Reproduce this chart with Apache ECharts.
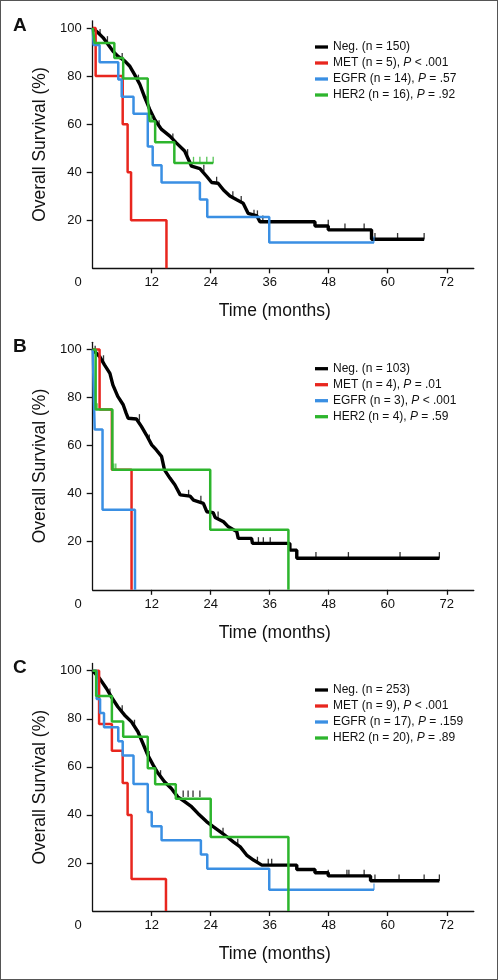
<!DOCTYPE html>
<html><head><meta charset="utf-8">
<script src="https://cdn.jsdelivr.net/npm/echarts@6/dist/echarts.min.js"></script>
<style>
html,body{margin:0;padding:0;background:#fff}
#c{position:absolute;left:0;top:0;width:498px;height:980px}
#frame{position:absolute;left:0;top:0;width:498px;height:980px;box-sizing:border-box;border:1px solid #555;pointer-events:none}
</style></head>
<body><div id="c"></div><div id="frame"></div>
<script>
// ---------- data ----------
const xTicks = [0, 12, 24, 36, 48, 60, 72];
const yTicks = [20, 40, 60, 80, 100];
const panelLetters = ['A', 'B', 'C'];

// Panel A
const namesA = ['Neg. (n = 150)', 'MET (n = 5), P < .001', 'EGFR (n = 14), P = .57', 'HER2 (n = 16), P = .92'];
const negA = [[0,100],[1.1,98],[2.1,96],[3.1,93.2],[4.1,90.4],[5.1,88.3],[6.5,86.3],[7.5,84.2],[8.5,80.7],[9.6,76.5],[10.6,71],[11.6,66.1],[12.6,61.9],[14,57.8],[15.7,55],[17,52.2],[18.7,48.8],[20.1,42.5],[21.8,41.5],[23.2,38.2],[24.2,35.7],[25.5,35.4],[26.6,32.6],[27.9,30.1],[29.3,28.5],[30.6,27.1],[31.6,22.9],[33.4,21.8],[34,19.4],[45.2,19.4],[45.2,17.6],[47.9,17.6],[47.9,16],[56.7,16],[56.7,12.1],[67.4,12.1]];
const metA = [[0,100],[0.6,80],[6.1,60],[7.1,40],[7.8,20],[15,0]];
const egfrA = [[0,100],[0.2,92.9],[1.4,85.7],[5.2,78.6],[5.9,71.4],[8.3,64.3],[11.2,50.7],[12.2,42.9],[14,35.7],[21.8,28.6],[23.3,21.4],[35.9,10.7],[57.2,10.7]];
const her2A = [[0,100],[0.4,93.75],[4.4,87.5],[6.2,79],[11.2,70.3],[11.6,61.2],[12.7,52.5],[16.6,43.8],[24.5,43.8]];
const negCensA = [[1.5,97],[3,94],[6,87],[9.3,78],[11,69],[13.5,59],[16.3,53.5],[19.3,47],[22.6,40.5],[25.2,35.5],[28.5,29.5],[30.2,27.5],[32.8,21.8],[33.5,21.5],[34.6,19.4],[47.9,17.6],[51.3,16],[55.2,16],[57.4,12.1],[62,12.1],[67.4,12.1]];
const egfrCensA = [[57.2,10.7]];
const her2CensA = [[12,61.2],[20.5,43.8],[21.8,43.8],[23.2,43.8],[24.5,43.8]];

// Panel B
const namesB = ['Neg. (n = 103)', 'MET (n = 4), P = .01', 'EGFR (n = 3), P < .001', 'HER2 (n = 4), P = .59'];
const negB = [[0,100],[1.4,97.1],[2.4,93.6],[3.5,90.1],[4.1,85.3],[5.1,80.5],[6.2,77],[6.8,73.5],[7.2,71.4],[8.9,71.1],[9.9,68],[10.9,64.5],[12,60.3],[12.9,58.3],[14,55.5],[14.6,49.9],[15.7,46.5],[16.7,43.7],[17.8,39.5],[19.8,39],[20.5,37.3],[22.5,36],[23.2,32.5],[24.5,32.1],[24.9,30.1],[26.6,28.3],[27.6,26.2],[29.3,24.2],[29.6,21.4],[32.3,21.4],[32.5,19.3],[40.1,19.3],[40.1,16.5],[41.5,16.5],[41.5,13.1],[70.5,13.1]];
const metB = [[0,100],[1.4,75],[3.9,50],[7.9,0]];
const egfrB = [[0,100],[0.4,66.7],[2.0,33.3],[8.6,0]];
const her2B = [[0,100],[0.6,75],[4.0,50],[23.9,25],[39.8,0]];
const negCensB = [[0.5,99],[2.2,95],[9.5,70.5],[11.5,62],[19.5,39],[22,36.5],[25.5,30],[33.7,19.3],[34.7,19.3],[36.1,19.3],[45.4,13.1],[52,13.1],[62.5,13.1],[70.5,13.1]];
const her2CensB = [[0.9,75],[4.3,50],[4.7,50]];

// Panel C
const namesC = ['Neg. (n = 253)', 'MET (n = 9), P < .001', 'EGFR (n = 17), P = .159', 'HER2 (n = 20), P = .89'];
const negC = [[0,100],[1.4,96.8],[2.8,92.6],[3.8,89.1],[5.1,85],[6.5,81.5],[7.9,78.7],[9.2,74.6],[10.2,69.8],[11.2,64.9],[12.3,60.7],[13.3,57.3],[14.6,53.8],[16,51],[17.3,47.5],[18.7,45.5],[20.1,43.4],[21.4,40.6],[23.2,37.1],[24.5,35.1],[25.9,33],[27.3,30.9],[28.6,28.8],[30,26.7],[31.3,23.3],[32.7,21.2],[34.4,19.1],[41.5,19.1],[41.5,17.3],[45.2,17.3],[45.2,15.9],[47.9,15.9],[47.9,14.6],[56.5,14.6],[56.5,12.6],[70.5,12.6]];
const metC = [[0,100],[1.3,77.8],[3.9,66.7],[6.1,53.3],[7.1,40],[7.9,13.3],[14.9,0]];
const egfrC = [[0,100],[0.8,88.2],[1.5,82.4],[2.3,76.5],[5.2,70.6],[6.1,64.7],[8.3,52.9],[11.2,41.2],[12.0,35.3],[14.0,29.4],[22.0,23.5],[23.3,17.6],[35.9,8.8],[57.2,8.8]];
const her2C = [[0,100],[0.7,89.5],[3.9,78.9],[6.2,72.5],[11.2,59.4],[12.7,52.8],[16.9,46.7],[24.0,30.8],[39.8,0]];
const negCensC = [[1,97.5],[3.5,90],[6,83],[8.5,77],[11.5,64],[13.8,56],[18.4,47.5],[19.4,47.5],[20.4,47.5],[21.8,47.5],[24,36],[26.5,32],[29.5,27.5],[33.5,20],[35.7,19.1],[36.4,19.1],[47.9,14.6],[51.7,14.6],[52.1,14.6],[55.2,14.6],[57.4,12.6],[62.3,12.6],[67.4,12.6],[70.5,12.6]];
const egfrCensC = [[57.2,8.8]];

// ---------- chart ----------
const COLORS = ['#000000', '#e8261e', '#3a8fe3', '#2db52d'];
const FONT = 'Liberation Sans, Arial, sans-serif';
const gridTops = [20.8, 342.3, 663.5];
const legendTops = [40, 361.7, 683];

const panels = [
  {names: namesA, curves: [negA, metA, egfrA, her2A], cens: [negCensA, [], egfrCensA, her2CensA]},
  {names: namesB, curves: [negB, metB, egfrB, her2B], cens: [negCensB, [], [], her2CensB]},
  {names: namesC, curves: [negC, metC, egfrC, her2C], cens: [negCensC, [], egfrCensC, []]}
];

const grid = [], xAxis = [], yAxis = [], series = [], legend = [], graphic = [];
panels.forEach((p, gi) => {
  grid.push({left: 92.7, top: gridTops[gi], width: 381.1, height: 247.5});
  xAxis.push({
    type: 'value', gridIndex: gi, min: 0, max: 77.5,
    axisLine: {lineStyle: {color: '#111', width: 1.3}},
    axisTick: {show: true, length: 5, customValues: xTicks.slice(1), lineStyle: {color: '#111', width: 1.3}},
    axisLabel: {customValues: xTicks, margin: 8, color: '#111', fontSize: 13, fontFamily: FONT,
      formatter: v => v === 0 ? '{z|0}' : String(v),
      rich: {z: {fontSize: 13, fontFamily: FONT, color: '#111', padding: [0, 29, 0, 0]}}},
    splitLine: {show: false},
    name: 'Time (months)', nameLocation: 'middle', nameGap: 34,
    nameTextStyle: {fontSize: 17.5, fontFamily: FONT, color: '#111', padding: [0, 17, 0, 0]}
  });
  yAxis.push({
    type: 'value', gridIndex: gi, min: 0, max: 103,
    axisLine: {show: true, lineStyle: {color: '#111', width: 1.3}},
    axisTick: {show: true, length: 6, customValues: yTicks, lineStyle: {color: '#111', width: 1.3}},
    axisLabel: {customValues: yTicks, margin: 11, color: '#111', fontSize: 13, fontFamily: FONT},
    splitLine: {show: false},
    name: 'Overall Survival (%)', nameLocation: 'middle', nameGap: 36,
    nameTextStyle: {fontSize: 17.5, fontFamily: FONT, color: '#111'}
  });
  const order = [1, 2, 3, 0];
  order.forEach(k => {
    series.push({
      type: 'line', name: p.names[k], xAxisIndex: gi, yAxisIndex: gi,
      data: p.curves[k], step: k === 0 ? false : 'end', showSymbol: false, symbol: 'none',
      lineStyle: {color: COLORS[k], width: k === 0 ? 3.4 : 2.5}, itemStyle: {color: COLORS[k]},
      z: 2 + k, silent: true, animation: false
    });
    if (p.cens[k].length) {
      series.push({
        type: 'scatter', name: p.names[k] + ' censored', xAxisIndex: gi, yAxisIndex: gi,
        data: p.cens[k], symbol: 'rect', symbolSize: [1.3, 6.5], symbolOffset: [0, -3],
        itemStyle: {color: COLORS[k]}, z: 2 + k, silent: true, animation: false
      });
    }
  });
  legend.push({
    data: p.names.map(n => ({name: n, icon: 'rect'})),
    orient: 'vertical', left: 315, top: legendTops[gi], padding: 0,
    itemWidth: 13, itemHeight: 3.3, itemGap: 2, itemTextGap: 5, selectedMode: false,
    textStyle: {fontSize: 12, fontFamily: FONT, color: '#111', lineHeight: 14,
      rich: {i: {fontStyle: 'italic', fontSize: 12, fontFamily: FONT, color: '#111'}}},
    formatter: n => n.replace(', P', ', {i|P}')
  });
  graphic.push({type: 'text', left: 13, top: gridTops[gi] - 5,
    style: {text: panelLetters[gi], font: 'bold 19px ' + FONT, fill: '#111'}});
});

const chart = echarts.init(document.getElementById('c'), null, {renderer: 'canvas'});
chart.setOption({animation: false, backgroundColor: '#fff', grid, xAxis, yAxis, series, legend, graphic});
</script>
</body></html>
